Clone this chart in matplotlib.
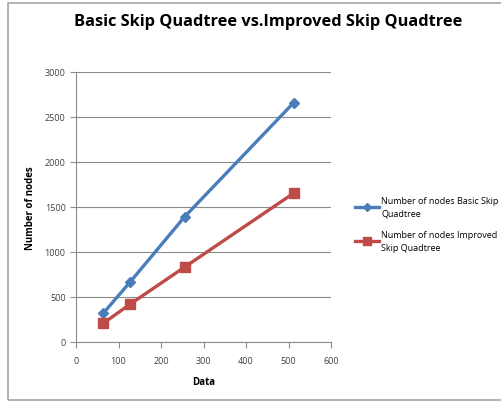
import matplotlib
matplotlib.use('Agg')
from matplotlib import pyplot as plt
from matplotlib.patches import Rectangle

plt.rcParams['font.family'] = ['Open Sans', 'DejaVu Sans']

data_size = [64, 128, 256, 512]
nodes_basic = [318, 669, 1391, 2653]
nodes_improved = [207, 422, 832, 1650]

fig = plt.figure(figsize=(5.02, 4.02), dpi=100)
fig.patch.set_facecolor('white')

# chart border (right edge runs off the image)
fig.patches.append(Rectangle((8 / 502, 1.5 / 402), 520 / 502, 397 / 402, transform=fig.transFigure,
                             fill=False, edgecolor='#a6a6a6', linewidth=1.2))

ax = fig.add_axes([76 / 502, 1 - 343 / 402, 255 / 502, 270.5 / 402])
ax.plot(data_size, nodes_basic, color='#4a7ebb', linewidth=2.4, marker='D', markersize=5,
        label='Number of nodes Basic Skip\nQuadtree')
ax.plot(data_size, nodes_improved, color='#be4b48', linewidth=2.4, marker='s', markersize=7.5,
        label='Number of nodes Improved\nSkip Quadtree')

ax.set_xlim(0, 600)
ax.set_ylim(0, 3000)
ax.set_xticks(range(0, 601, 100))
ax.set_yticks(range(0, 3001, 500))
ax.yaxis.grid(True, color='#8c8c8c', linewidth=0.8)
ax.set_axisbelow(True)
for s in ['top', 'right']:
    ax.spines[s].set_visible(False)
for s in ['left', 'bottom']:
    ax.spines[s].set_color('#8c8c8c')
ax.tick_params(axis='both', labelsize=6.5, colors='#8c8c8c', labelcolor='#404040', length=4)
ax.tick_params(axis='x', pad=6)

ax.set_xlabel('Data', fontsize=7, fontweight='bold', labelpad=8)
ax.set_ylabel('Number of nodes', fontsize=7, fontweight='bold', labelpad=6)

fig.suptitle('Basic Skip Quadtree vs.Improved Skip Quadtree', x=268 / 502, y=1 - 22 / 402,
             fontsize=11.8, fontweight='bold', va='center')

leg = ax.legend(loc='center left', bbox_to_anchor=(347 / 502, 1 - 225 / 402), bbox_transform=fig.transFigure,
                frameon=False, fontsize=6.5, handlelength=2.6, handletextpad=0.3, labelspacing=1.4,
                markerscale=0.75)
for t in leg.get_texts():
    t.set_linespacing(1.5)

plt.savefig('out.png', dpi=100)
